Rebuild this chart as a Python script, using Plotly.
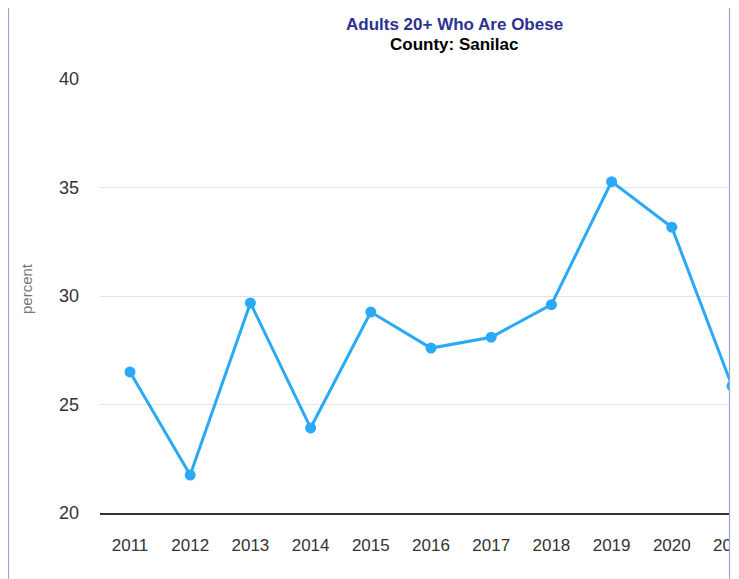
import plotly.graph_objects as go

years = [2011, 2012, 2013, 2014, 2015, 2016, 2017, 2018, 2019, 2020, 2021]
values = [26.5, 21.75, 29.68, 23.92, 29.26, 27.6, 28.1, 29.6, 35.27, 33.17, 25.85]
y_ticks = [20, 25, 30, 35, 40]
title_text = "Adults 20+ Who Are Obese"
subtitle_text = "County: Sanilac"
y_label = "percent"

OFF = 8  # page body margin
W, H = 739 - OFF, 579 - OFF
L, R, T, B = 100 - OFF, 0, 79 - OFF, 66
pw = W - L - R
ph = H - T - B

def px_x(p):
    return (p - OFF - L) / pw

def px_y(p):
    return (H - B - (p - OFF)) / ph

line_color = "#2aa9f7"
border_color = "#98a2e0"
font_family = "Arial, Liberation Sans, sans-serif"

step = 60.2
x0 = years[0] - 30 / step
x1 = x0 + pw / step

fig = go.Figure()
fig.add_trace(go.Scatter(
    x=years, y=values, mode="lines+markers",
    line=dict(color=line_color, width=3),
    marker=dict(color=line_color, size=11),
    hoverinfo="x+y", cliponaxis=True,
))

fig.update_layout(
    width=W, height=H,
    margin=dict(l=L, r=R, t=T, b=B, autoexpand=False),
    plot_bgcolor="white", paper_bgcolor="white",
    showlegend=False,
    font=dict(family=font_family),
    xaxis=dict(
        range=[x0, x1], tickmode="array", tickvals=years,
        ticktext=[str(y) for y in years],
        showgrid=False, zeroline=False, automargin=False,
        showline=True, linecolor="#333333", linewidth=2,
        ticks="", tickfont=dict(size=17, color="#333333"),
        ticklabelstandoff=16, ticklabeloverflow="allow",
    ),
    yaxis=dict(
        range=[20, 40], tickmode="array", tickvals=y_ticks,
        showgrid=True, gridcolor="#e3e3e3", gridwidth=1,
        zeroline=False, showline=False, ticks="", automargin=False,
        tickfont=dict(size=18, color="#333333"),
        ticklabelstandoff=20,
    ),
    shapes=[
        dict(type="rect", xref="paper", yref="paper",
             x0=px_x(730), x1=1.05, y0=px_y(600), y1=px_y(-20),
             fillcolor="white", line=dict(width=0), layer="above"),
        dict(type="line", xref="paper", yref="paper",
             x0=px_x(729.5), x1=px_x(729.5), y0=px_y(600), y1=px_y(5),
             line=dict(color=border_color, width=1.2), layer="above"),
    ],
    annotations=[
        dict(text="<b>" + title_text + "</b>", xref="paper", yref="paper",
             x=px_x(454), y=px_y(24), showarrow=False,
             font=dict(size=17, color="#2e3192", family=font_family),
             xanchor="center", yanchor="middle"),
        dict(text="<b>" + subtitle_text + "</b>", xref="paper", yref="paper",
             x=px_x(454), y=px_y(44), showarrow=False,
             font=dict(size=17, color="#000000", family=font_family),
             xanchor="center", yanchor="middle"),
        dict(text=y_label, xref="paper", yref="paper",
             x=px_x(26), y=px_y(289), showarrow=False, textangle=-90,
             font=dict(size=15, color="#777777", family=font_family),
             xanchor="center", yanchor="middle"),
    ],
)

# left border line of the original container
fig.add_shape(type="line", xref="paper", yref="paper",
              x0=px_x(8.5), x1=px_x(8.5), y0=px_y(600), y1=px_y(5),
              line=dict(color=border_color, width=1.2), layer="above")

fig.write_html("out.html")
